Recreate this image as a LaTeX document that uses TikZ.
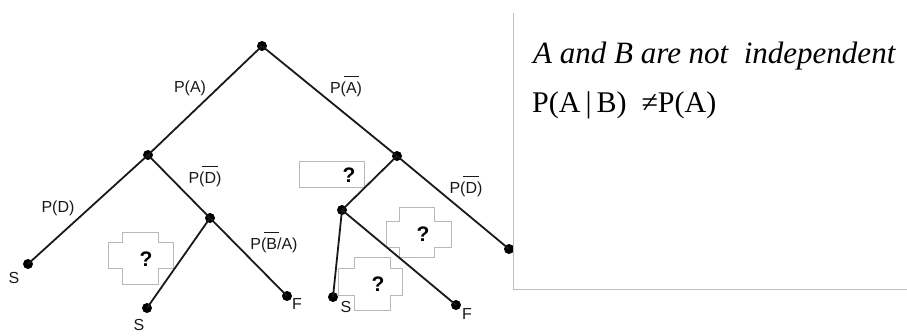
\documentclass[tikz,border=0pt]{standalone}
\usepackage{fontspec}
\setmainfont{Liberation Serif}
\setsansfont{Liberation Sans}
\newlength\ovlw
\newcommand\ovl[1]{\settowidth\ovlw{#1}\addtolength\ovlw{0.26em}\makebox[0pt][l]{\hspace*{-0.13em}\rule[0.98em]{\ovlw}{0.075em}}#1}
\begin{document}
\begin{tikzpicture}[x=1pt,y=-1pt,
  dot/.style={circle,fill=black,inner sep=0pt,minimum size=10pt},
  edge/.style={line width=1.8pt, black!90},
  lbl/.style={font=\sffamily\fontsize{16}{16}\selectfont, inner sep=0pt, text=black!90},
  qbox/.style={draw=black!28, line width=1pt, fill=white},
  qmark/.style={font=\sffamily\bfseries\fontsize{21}{21}\selectfont, inner sep=0pt},
  panel/.style={draw=black!25, line width=1pt}]
\useasboundingbox (0,0) rectangle (907,335);
% question boxes
\draw[qbox] (299,161) rectangle (364,187);
\draw[qbox] (122,232)--(158,232)--(158,242)--(173,242)--(173,268)--(158,268)--(158,284)--(122,284)--(122,268)--(108,268)--(108,242)--(122,242)--cycle;
\draw[qbox] (399,207)--(434,207)--(434,221)--(451,221)--(451,247)--(434,247)--(434,257)--(399,257)--(399,247)--(386,247)--(386,221)--(399,221)--cycle;
\draw[qbox] (354,257)--(390,257)--(390,268)--(402,268)--(402,295)--(390,295)--(390,310)--(354,310)--(354,295)--(338,295)--(338,268)--(354,268)--cycle;
\node[qmark] (q1) at (349,175) {?};
\node[qmark] (q2) at (146,259) {?};
\node[qmark] (q3) at (423,234) {?};
\node[qmark] (q4) at (378,284) {?};
% tree nodes
\node[dot] (root) at (262,46) {};
\node[dot] (L) at (148,155) {};
\node[dot] (R) at (397,156) {};
\node[dot] (LS) at (28,264) {};
\node[dot] (LL) at (210,218) {};
\node[dot] (LLS) at (147,308) {};
\node[dot] (LLF) at (287,296) {};
\node[dot] (RL) at (342,210) {};
\node[dot] (RLS) at (333,297) {};
\node[dot] (RLF) at (456,305) {};
\node[dot] (RR) at (509,249) {};
% edges
\draw[edge] (root.center) -- (L.center);
\draw[edge] (root.center) -- (R.center);
\draw[edge] (L.center) -- (LS.center);
\draw[edge] (L.center) -- (LL.center);
\draw[edge] (LL.center) -- (LLS.center);
\draw[edge] (LL.center) -- (LLF.center);
\draw[edge] (R.center) -- (RL.center);
\draw[edge] (R.center) -- (RR.center);
\draw[edge] (RL.center) -- (RLS.center);
\draw[edge] (RL.center) -- (RLF.center);
% edge labels
\node[lbl, anchor=base] (lA) at (190,92) {P(A)};
\node[lbl, anchor=base] (lnA) at (346,93) {P(\ovl{A})};
\node[lbl, anchor=base] (lD) at (58,212) {P(D)};
\node[lbl, anchor=base] (lnD1) at (205,183) {P(\ovl{D})};
\node[lbl, anchor=base] (lnB) at (274,249) {P(\ovl{B}/A)};
\node[lbl, anchor=base] (lnD2) at (466,193) {P(\ovl{D})};
% leaf labels
\node[lbl] (tS1) at (14,278) {S};
\node[lbl] (tS2) at (139,325) {S};
\node[lbl] (tF1) at (297,304) {F};
\node[lbl] (tS3) at (346,307) {S};
\node[lbl] (tF2) at (467,314) {F};
% right panel
\draw[panel] (513,13) -- (513,289) -- (907,289);
\node[anchor=base west, inner sep=0pt, font=\fontsize{31}{31}\selectfont\itshape] (t1) at (533,63) {A and B are not\ \ independent};
\node[anchor=base west, inner sep=0pt, font=\fontsize{30}{30}\selectfont] (t2) at (532,112) {P(A\,|\,B)\ \ ≠P(A)};
\end{tikzpicture}
\end{document}
